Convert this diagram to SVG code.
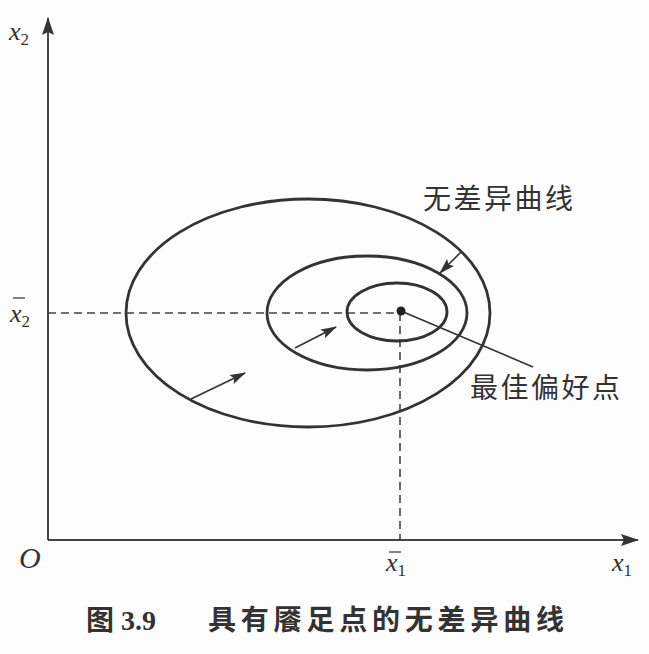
<svg xmlns="http://www.w3.org/2000/svg" width="649" height="654" viewBox="0 0 649 654">
<defs>
<marker id="ah" markerWidth="16" markerHeight="10" refX="15" refY="5" orient="auto" markerUnits="userSpaceOnUse">
<path d="M0,0 L16,5 L0,10 L3,5 Z" fill="#333"/>
</marker>
<marker id="axh" markerWidth="18" markerHeight="12" refX="17" refY="6" orient="auto" markerUnits="userSpaceOnUse">
<path d="M0,0 L18,6 L0,12 L3,6 Z" fill="#333"/>
</marker>
</defs>
<style>
.ax{stroke:#444;stroke-width:2;fill:none}
.dash{stroke:#444;stroke-width:1.6;fill:none;stroke-dasharray:8 5}
.ic{stroke:#333;stroke-width:2.8;fill:none}
.arr{stroke:#333;stroke-width:1.6;fill:none}
.bar{stroke:#333;stroke-width:1.2}
.m{font-family:"Liberation Serif",serif;font-style:italic;fill:#333}
.sub{font-family:"Liberation Serif",serif;font-style:normal;fill:#333}
.cn{font-family:"Noto Sans CJK SC","Noto Sans CJK JP",sans-serif;fill:#333}
</style>
<rect width="649" height="654" fill="#fdfdfd"/>
<g id="connectors">
<line class="ax" x1="48" y1="540" x2="48" y2="18" marker-end="url(#axh)"/>
<line class="ax" x1="48" y1="540" x2="638" y2="540" marker-end="url(#axh)"/>
<line class="dash" x1="48" y1="313" x2="400" y2="313"/>
<line class="dash" x1="400" y1="313" x2="400" y2="540"/>
<line class="arr" x1="461" y1="252" x2="440" y2="273" marker-end="url(#ah)"/>
<line class="arr" x1="295" y1="348" x2="336" y2="327" marker-end="url(#ah)"/>
<line class="arr" x1="191" y1="399" x2="245" y2="373" marker-end="url(#ah)"/>
<line class="arr" x1="401" y1="311" x2="533" y2="367"/>
</g>
<g id="curve-outer"><ellipse class="ic" cx="308" cy="313" rx="182" ry="114"/></g>
<g id="curve-middle"><ellipse class="ic" cx="367" cy="313" rx="100" ry="57"/></g>
<g id="curve-inner"><ellipse class="ic" cx="397" cy="312" rx="50" ry="29"/></g>
<g id="bliss-point"><circle cx="401" cy="311" r="4.5" fill="#222"/></g>
<g id="labels">
<text class="m" x="9" y="40" font-size="26">x<tspan class="sub" font-size="17" dy="5">2</tspan></text>
<text class="m" x="10" y="322" font-size="26">x<tspan class="sub" font-size="17" dy="5">2</tspan></text>
<line class="bar" x1="13" y1="298" x2="25" y2="298"/>
<text class="m" x="19" y="568" font-size="30">O</text>
<text class="m" x="386" y="571" font-size="26">x<tspan class="sub" font-size="17" dy="5">1</tspan></text>
<line class="bar" x1="389" y1="552" x2="401" y2="552"/>
<text class="m" x="612" y="571" font-size="26">x<tspan class="sub" font-size="17" dy="5">1</tspan></text>
<text class="cn" x="423" y="209" font-size="28" letter-spacing="2.5">无差异曲线</text>
<text class="cn" x="470" y="398" font-size="28" letter-spacing="2.5">最佳偏好点</text>
<text class="cn" x="86" y="630" font-size="28" font-weight="bold">图<tspan font-family="Liberation Serif,serif" dx="7">3.9</tspan></text>
<text class="cn" x="208" y="630" font-size="28" font-weight="bold" letter-spacing="4.8">具有餍足点的无差异曲线</text>
</g>
</svg>
